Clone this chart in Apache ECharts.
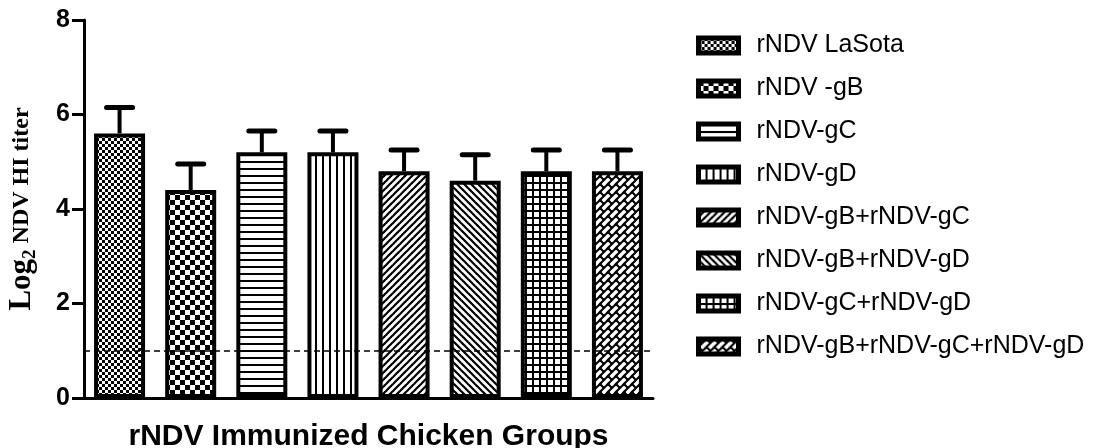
<!DOCTYPE html>
<html>
<head>
<meta charset="utf-8">
<script src="https://cdn.jsdelivr.net/npm/echarts@6/dist/echarts.min.js"></script>
<style>
  html, body { margin: 0; padding: 0; background: #fff; }
  #chart { width: 1108px; height: 448px; }
</style>
</head>
<body>
<div id="chart"></div>
<script>
// HI titers (log2) of chickens immunized with the recombinant NDV constructs
const groups = [
  'rNDV LaSota',
  'rNDV -gB',
  'rNDV-gC',
  'rNDV-gD',
  'rNDV-gB+rNDV-gC',
  'rNDV-gB+rNDV-gD',
  'rNDV-gC+rNDV-gD',
  'rNDV-gB+rNDV-gC+rNDV-gD'
];
const meanTiter = [5.6, 4.4, 5.2, 5.2, 4.8, 4.6, 4.8, 4.8];
const sdTiter = [0.55, 0.55, 0.45, 0.45, 0.45, 0.55, 0.45, 0.45];
const cutoffTiter = 1;
const yMin = 0, yMax = 8, yStep = 2;

const SANS = '"Liberation Sans", Arial, sans-serif';
const SERIF = '"Liberation Serif", "Times New Roman", serif';

// ---- black & white hatch fills -------------------------------------------
function tile(w, h, draw) {
  const c = document.createElement('canvas');
  c.width = w; c.height = h;
  const g = c.getContext('2d');
  g.fillStyle = '#fff';
  g.fillRect(0, 0, w, h);
  g.fillStyle = '#000';
  g.strokeStyle = '#000';
  draw(g, w, h);
  return c;
}
function checker(cell) {
  return tile(cell * 2, cell * 2, g => {
    g.fillRect(0, 0, cell, cell);
    g.fillRect(cell, cell, cell, cell);
  });
}
function diagonal(size, width, rising) {
  return tile(size, size, g => {
    g.lineWidth = width;
    for (let k = -1; k <= 1; k++) {
      g.beginPath();
      if (rising) {
        g.moveTo(k * size - 1, size + 1);
        g.lineTo(k * size + size + 1, -1);
      } else {
        g.moveTo(k * size - 1, -1);
        g.lineTo(k * size + size + 1, size + 1);
      }
      g.stroke();
    }
  });
}
function brick(size) {
  return tile(size, size, g => {
    g.lineWidth = 2;
    for (let dx = -size; dx <= size; dx += size) {
      for (let dy = -size; dy <= size; dy += size) {
        g.beginPath();
        g.moveTo(dx - 1, dy + size + 1);
        g.lineTo(dx + size + 1, dy - 1);
        g.stroke();
        g.beginPath();
        g.moveTo(dx, dy);
        g.lineTo(dx + size / 2, dy + size / 2);
        g.stroke();
      }
    }
  });
}
const fills = [
  checker(3),
  checker(5),
  tile(7, 7, g => g.fillRect(0, 0, 7, 2)),
  tile(7, 7, g => g.fillRect(0, 0, 2, 7)),
  diagonal(7, 2.2, true),
  diagonal(7, 2.2, false),
  tile(7, 7, g => { g.fillRect(0, 0, 7, 2); g.fillRect(0, 0, 2, 7); }),
  brick(8)
].map(c => ({ image: c, repeat: 'repeat' }));

// ---- series ---------------------------------------------------------------
const barSeries = groups.map((name, i) => ({
  name: name,
  type: 'bar',
  barWidth: 51,
  barGap: '-100%',
  data: meanTiter.map((v, j) => (j === i ? v : null)),
  itemStyle: { color: fills[i], borderColor: '#000', borderWidth: 4 },
  emphasis: { disabled: true },
  z: 2
}));

const errorSeries = {
  type: 'custom',
  name: 'sd',
  z: 3,
  data: meanTiter.map((m, i) => [i, m, m + sdTiter[i]]),
  encode: { x: 0, y: [1, 2] },
  renderItem: function (params, api) {
    const base = api.coord([api.value(0), api.value(1)]);
    const top = api.coord([api.value(0), api.value(2)]);
    const half = 13;
    return {
      type: 'group',
      children: [
        {
          type: 'line',
          shape: { x1: base[0], y1: base[1], x2: top[0], y2: top[1] },
          style: { stroke: '#000', lineWidth: 4 }
        },
        {
          type: 'line',
          shape: { x1: top[0] - half, y1: top[1], x2: top[0] + half, y2: top[1] },
          style: { stroke: '#000', lineWidth: 5, lineCap: 'round' }
        }
      ]
    };
  },
  markLine: {
    silent: true,
    symbol: 'none',
    label: { show: false },
    lineStyle: { color: '#000', width: 1.5, type: [6, 4] },
    data: [{ yAxis: cutoffTiter }]
  }
};

const chart = echarts.init(document.getElementById('chart'), null, { renderer: 'canvas' });
chart.setOption({
  backgroundColor: '#fff',
  animation: false,
  grid: { left: 84, right: 455, top: 20, bottom: 50, containLabel: false, outerBoundsMode: 'none' },
  legend: {
    orient: 'vertical',
    left: 691,
    top: 28,
    data: groups,
    selectedMode: false,
    itemWidth: 40,
    itemHeight: 15,
    itemGap: 18,
    icon: 'rect',
    itemStyle: { borderColor: '#000', borderWidth: 5 },
    textStyle: {
      fontFamily: SANS,
      fontSize: 25,
      lineHeight: 24,
      color: '#000',
      padding: [0, 0, 0, 13]
    }
  },
  xAxis: {
    type: 'category',
    data: groups,
    name: 'rNDV Immunized Chicken Groups',
    nameLocation: 'middle',
    nameGap: 24,
    nameTextStyle: {
      fontFamily: SANS,
      fontWeight: 'bold',
      fontSize: 30,
      color: '#000',
      verticalAlign: 'top'
    },
    axisLine: { show: true, lineStyle: { color: '#000', width: 3 } },
    axisTick: { show: false },
    axisLabel: { show: false },
    splitLine: { show: false }
  },
  yAxis: {
    type: 'value',
    min: yMin,
    max: yMax,
    interval: yStep,
    name: '{a|Log}{b|2}{c| NDV HI titer}',
    nameLocation: 'middle',
    nameRotate: 90,
    nameGap: 44,
    nameTextStyle: {
      color: '#000',
      rich: {
        a: { fontFamily: SERIF, fontWeight: 'bold', fontSize: 31, lineHeight: 36, verticalAlign: 'middle', color: '#000' },
        b: { fontFamily: SERIF, fontWeight: 'bold', fontSize: 19, lineHeight: 19, verticalAlign: 'bottom', color: '#000' },
        c: { fontFamily: SERIF, fontWeight: 'bold', fontSize: 24, lineHeight: 36, verticalAlign: 'middle', color: '#000' }
      }
    },
    axisLine: { show: true, lineStyle: { color: '#000', width: 3 } },
    axisTick: { show: true, length: 12, lineStyle: { color: '#000', width: 3 } },
    axisLabel: {
      margin: 14,
      fontFamily: SANS,
      fontWeight: 'bold',
      fontSize: 25,
      color: '#000'
    },
    splitLine: { show: false }
  },
  series: barSeries.concat([errorSeries])
});
</script>
</body>
</html>
